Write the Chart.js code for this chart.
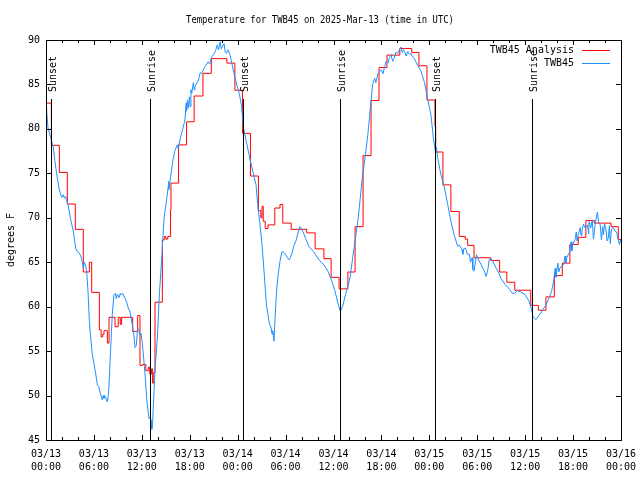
<!DOCTYPE html>
<html>
<head>
<meta charset="utf-8">
<title>Temperature for TWB45</title>
<script src="https://cdn.jsdelivr.net/npm/chart.js@4.4.1/dist/chart.umd.min.js"></script>
<style>
    html, body { margin: 0; padding: 0; background: #fff; }
    #wrap { width: 640px; height: 480px; }
</style>
</head>
<body>
<div id="wrap"><canvas id="tempChart" width="640" height="480"></canvas></div>
<script>
// ------------------------------------------
// Dados (horas desde 2025-03-13 00:00 UTC)
// ------------------------------------------
const analysisHours = [0, 0.67, 1.67, 2.67, 3.67, 4.67, 5.43, 5.72, 6.68, 6.9, 7.1, 7.26, 7.68, 7.89, 8.64, 9.05, 9.3, 9.47,
    10.85, 11.48, 11.77, 12.1, 12.5, 12.81, 13.0, 13.2, 13.35, 13.5, 13.65, 14.57, 14.8, 15.0, 15.25, 15.6, 15.65,
    16.6, 17.6, 18.55, 19.65, 20.7, 22.65, 23.65, 24.6, 25.6, 26.6, 26.9, 27.05, 27.2, 27.45, 27.8, 28.65, 29.3, 29.65,
    30.7, 32.65, 33.7, 34.8, 35.7, 36.7, 37.8, 38.7, 39.7, 40.7, 41.7, 42.7, 44.3, 45.8, 46.7, 47.7, 48.7, 48.8,
    49.7, 50.7, 51.75, 52.5, 52.8, 53.6, 55.7, 56.8, 57.7, 58.7, 60.7, 61.65, 62.6, 63.65, 64.65, 65.6, 66.65, 67.6,
    68.65, 70.75, 71.66, 72];
const analysisTemps = [82.9, 78.15, 75.1, 71.55, 68.7, 63.9, 65.0, 61.6, 57.4, 56.6, 56.9, 57.3, 55.9, 58.8, 57.75, 58.8, 58.0, 58.8,
    57.2, 59.0, 53.4, 53.5, 52.8, 53.2, 52.4, 53.0, 51.4, 52.6, 60.5, 67.5, 67.9, 67.6, 67.9, 70.9, 73.9,
    78.2, 80.8, 83.7, 86.25, 87.9, 87.4, 84.35, 79.5, 74.7, 70.8, 70.0, 71.3, 69.6, 68.8, 69.2, 71.1, 71.5, 69.4,
    68.7, 68.3, 66.5, 65.4, 63.3, 62.0, 63.9, 69.0, 77.0, 83.2, 86.9, 88.3, 89.05, 88.6, 87.1, 83.25, 80.3, 77.4,
    73.7, 70.7, 67.9, 67.6, 66.9, 65.5, 65.2, 63.9, 62.75, 61.85, 60.15, 59.6, 61.1, 63.5, 64.9, 67.0, 67.8, 69.7,
    69.4, 69.0, 67.55, 67.55];

const obsHours = [0, 0.08, 0.25, 0.6, 0.93, 1.12, 1.33, 1.62, 1.83, 2.0, 2.17, 2.3, 2.46, 2.6, 2.75, 3.09, 3.42, 3.71, 3.9,
    4.13, 4.3, 4.42, 4.55, 4.67, 4.8, 4.96, 5.09, 5.26, 5.43, 5.59, 5.8, 6.1, 6.25, 6.43, 6.6, 6.85, 7.05, 7.15, 7.26,
    7.35, 7.47, 7.6, 7.68, 7.8, 7.89, 8.1, 8.3, 8.5, 8.7, 8.8, 8.93, 9.14, 9.3, 9.43, 9.6, 9.77, 10.1, 10.3, 10.5, 10.8,
    11.0, 11.15, 11.3, 11.45, 11.6, 11.75, 11.9, 12.05, 12.25, 12.45, 12.6, 12.75, 12.9, 13.05, 13.15, 13.25, 13.35,
    13.45, 13.65, 13.95, 14.2, 14.5, 14.65, 14.8, 15.1, 15.3, 15.35, 15.4, 15.6, 15.9, 16.15, 16.45, 16.55, 16.8, 17.1,
    17.4, 17.55, 17.6, 17.7, 17.8, 17.95, 18.05, 18.15, 18.25, 18.45, 18.55, 18.65, 18.9, 19.1, 19.3, 19.5, 19.9, 20.3,
    20.5, 20.75, 21.0, 21.2, 21.45, 21.6, 21.8, 21.95, 22.1, 22.3, 22.45, 22.6, 22.8, 23.05, 23.2, 23.45, 23.9, 24.2,
    24.5, 24.7, 25.1, 25.45, 25.9, 26.3, 26.5, 26.75, 27.05, 27.3, 27.6, 27.9, 28.0, 28.2, 28.3, 28.4, 28.55, 28.7,
    28.9, 29.1, 29.3, 29.55, 29.8, 30.05, 30.3, 30.5, 30.8, 31.05, 31.3, 31.6, 31.8, 32.0, 32.2, 32.5, 32.9, 33.5,
    34.15, 34.8, 35.3, 35.8, 36.2, 36.55, 36.85, 37.15, 37.5, 37.8, 38.1, 38.4, 38.75, 39.1, 39.35, 39.65, 40.0, 40.3,
    40.65, 40.9, 41.15, 41.3, 41.6, 42.0, 42.2, 42.4, 42.6, 42.8, 43.0, 43.2, 43.4, 43.6, 43.8, 44.05, 44.25, 44.45,
    44.6, 44.75, 44.9, 45.1, 45.3, 45.5, 45.7, 45.9, 46.1, 46.5, 46.95, 47.4, 47.8, 48.2, 48.5, 48.75, 48.9, 49.05,
    49.45, 49.9, 50.3, 50.7, 51.1, 51.55, 51.8, 52.1, 52.2, 52.3, 52.5, 52.8, 53.0, 53.15, 53.35, 53.45, 53.6, 53.9,
    54.2, 54.5, 54.9, 55.1, 55.3, 55.5, 55.7, 55.9, 56.35, 56.6, 56.95, 57.5, 58.1, 58.4, 58.7, 59.0, 59.35, 59.95,
    60.5, 60.8, 61.0, 61.35, 61.8, 62.2, 62.6, 63.0, 63.3, 63.6, 63.75, 63.85, 63.95, 64.1, 64.2, 64.35, 64.8, 65.0,
    65.1, 65.2, 65.6, 65.75, 65.85, 65.95, 66.25, 66.4, 66.5, 66.65, 66.9, 67.0, 67.1, 67.3, 67.5, 67.8, 67.95, 68.0,
    68.2, 68.4, 68.55, 68.75, 69.05, 69.2, 69.4, 69.55, 69.7, 69.8, 69.95, 70.1, 70.25, 70.4, 70.55, 70.65, 70.8, 71.0,
    71.25, 71.45, 71.65, 71.8, 71.95, 72];
const obsTemps = [82.3, 82.0, 80.1, 79.0, 77.85, 76.35, 75.0, 73.35, 72.6, 72.3, 72.6, 72.2, 72.4, 71.9, 71.5, 69.8, 68.5, 66.6, 66.2,
    66.05, 65.8, 65.5, 65.0, 64.35, 65.0, 64.7, 64.0, 61.7, 58.35, 56.5, 54.6, 53.1, 52.3, 51.2, 51.0, 50.1, 49.5, 50.0, 49.7,
    50.0, 49.8, 49.4, 49.3, 50.0, 51.2, 55.35, 59.1, 61.3, 61.5, 60.9, 61.4, 61.0, 61.5, 61.3, 61.5, 61.2, 60.5, 59.85, 59.5, 58.0,
    56.8, 55.4, 55.6, 57.3, 57.5, 56.8, 57.0, 56.0, 54.0, 51.8, 49.8, 48.5, 47.4, 47.6, 47.2, 46.2, 47.0,
    49.0, 52.9, 56.6, 61.5, 65.5, 68.0, 70.1, 72.0, 73.5, 74.1, 73.2, 74.6, 76.5, 77.6, 78.2, 77.8, 78.9, 79.9,
    81.0, 82.9, 82.0, 83.2, 82.3, 83.6, 82.5, 84.4, 84.0, 85.2, 84.4, 84.75, 85.2, 85.5, 86.3, 86.25, 87.0, 87.55,
    87.3, 88.1, 88.4, 88.7, 89.45, 88.9, 89.8, 89.0, 89.3, 89.6, 88.6, 88.5, 88.9, 88.3, 87.7, 86.6, 84.9, 84.0,
    82.5, 80.25, 78.5, 77.0, 75.2, 73.7, 71.5, 69.6, 67.0, 64.0, 60.2, 58.5, 58.0, 57.6, 56.9, 57.3, 56.1, 59.0,
    62.2, 63.8, 65.1, 66.2, 66.1, 65.8, 65.4, 65.3, 66.0, 66.9, 67.4, 68.5, 69.0, 68.7, 68.4, 67.7, 66.8, 66.2,
    65.3, 64.7, 64.0, 62.85, 61.7, 60.4, 59.5, 60.05, 61.35, 62.3, 63.4, 65.5, 67.7, 70.0, 72.2, 74.85, 77.1, 79.35,
    82.7, 85.0, 85.7, 85.2, 86.3, 86.65, 86.2, 87.0, 87.6, 87.4, 88.0, 88.35, 87.6, 87.95, 88.6, 88.5, 88.9, 89.2,
    88.6, 88.9, 88.7, 88.2, 88.7, 88.4, 88.5, 88.1, 87.95, 87.2, 86.5, 85.2, 83.3, 81.6, 79.0, 77.5, 77.9, 76.7,
    74.85, 73.35, 71.5, 69.6, 68.1, 66.8, 66.9, 66.4, 65.9, 66.5, 66.6, 65.85, 65.9, 65.0, 65.5, 64.2, 64.0, 65.85,
    65.2, 64.7, 64.0, 63.4, 64.0, 65.3, 65.4, 65.2, 64.35, 64.0, 63.2, 62.5, 61.9, 61.5, 61.5, 61.8, 61.7, 61.4,
    60.6, 59.65, 58.8, 58.55, 59.1, 59.65, 60.2, 61.0, 61.7, 63.0, 64.3, 63.3, 64.0, 64.9, 63.9, 64.35, 64.7, 65.7,
    64.9, 65.5, 66.2, 67.3, 66.3, 67.0, 67.55, 68.4, 67.4, 68.1, 68.9, 68.0, 68.5, 69.3, 68.85, 69.2, 68.2, 69.6,
    68.85, 69.7, 67.6, 69.2, 70.65, 69.5, 69.2, 67.5, 69.0, 68.1, 69.3, 68.85, 67.4, 67.7, 69.1, 67.1, 68.7, 68.9,
    68.5, 68.4, 67.55, 67.0, 67.5, 67.2];

// Nascer / pôr do sol
const sunHours = [0.63, 12.98, 24.7, 36.85, 48.75, 60.9];
const sunLabels = ['Sunset', 'Sunrise', 'Sunset', 'Sunrise', 'Sunset', 'Sunrise'];

// Eixos
const dayLabels = ['03/13', '03/14', '03/15', '03/16'];
const xMajorTicks = [0, 6, 12, 18, 24, 30, 36, 42, 48, 54, 60, 66, 72];
const xMinorTicks = [2, 4, 8, 10, 14, 16, 20, 22, 26, 28, 32, 34, 38, 40, 44, 46, 50, 52, 56, 58, 62, 64, 68, 70];
const yTicks = [45, 50, 55, 60, 65, 70, 75, 80, 85, 90];

const FONT = '"DejaVu Sans Mono", "Liberation Mono", monospace';
const RED = '#ff0000';
const BLUE = '#1e90ff';

function toPoints(xs, ys) {
    return xs.map((h, i) => ({ x: h, y: ys[i] }));
}

function hourLabel(v) {
    const h = v % 24;
    return [dayLabels[Math.floor(v / 24)], (h < 10 ? '0' : '') + h + ':00'];
}

// ------------------------------------------
// Moldura, marcas, título, legenda e linhas do sol
// ------------------------------------------
const gnuplotLook = {
    id: 'gnuplotLook',
    afterDatasetsDraw(chart) {
        const { ctx, chartArea: a, scales: { x, y } } = chart;
        const L = Math.round(a.left), R = Math.round(a.right), T = Math.round(a.top), B = Math.round(a.bottom);
        ctx.save();
        ctx.strokeStyle = '#000';
        ctx.fillStyle = '#000';
        ctx.lineWidth = 1;

        // linhas verticais de nascer/pôr do sol
        ctx.font = '10px ' + FONT;
        sunHours.forEach((h, i) => {
            const px = Math.round(x.getPixelForValue(h)) + 0.5;
            ctx.beginPath();
            ctx.moveTo(px, 99);
            ctx.lineTo(px, B);
            ctx.stroke();
            ctx.save();
            ctx.translate(px + 1.5, 92);
            ctx.rotate(-Math.PI / 2);
            ctx.textAlign = 'left';
            ctx.textBaseline = 'middle';
            ctx.fillText(sunLabels[i], 0, 0);
            ctx.restore();
        });

        // moldura
        ctx.strokeRect(L + 0.5, T + 0.5, R - L, B - T);

        // marcas para dentro
        ctx.beginPath();
        xMajorTicks.forEach(v => {
            const px = Math.round(x.getPixelForValue(v)) + 0.5;
            ctx.moveTo(px, B); ctx.lineTo(px, B - 5);
            ctx.moveTo(px, T); ctx.lineTo(px, T + 5);
        });
        xMinorTicks.forEach(v => {
            const px = Math.round(x.getPixelForValue(v)) + 0.5;
            ctx.moveTo(px, B); ctx.lineTo(px, B - 3);
            ctx.moveTo(px, T); ctx.lineTo(px, T + 3);
        });
        yTicks.forEach(v => {
            const py = Math.round(y.getPixelForValue(v)) + 0.5;
            ctx.moveTo(L, py); ctx.lineTo(L + 5, py);
            ctx.moveTo(R, py); ctx.lineTo(R - 5, py);
        });
        ctx.stroke();

        // legenda
        ctx.textAlign = 'right';
        ctx.textBaseline = 'middle';
        chart.data.datasets.forEach((ds, i) => {
            const ly = 50 + i * 13;
            ctx.fillStyle = '#000';
            ctx.fillText(ds.label, 574, ly);
            ctx.strokeStyle = ds.borderColor;
            ctx.beginPath();
            ctx.moveTo(582, ly + 0.5);
            ctx.lineTo(610, ly + 0.5);
            ctx.stroke();
        });

        // título (fonte um pouco mais estreita)
        ctx.fillStyle = '#000';
        ctx.textAlign = 'center';
        ctx.translate(320, 20);
        ctx.scale(0.89, 1);
        ctx.fillText('Temperature for TWB45 on 2025-Mar-13 (time in UTC)', 0, 0);
        ctx.restore();
    }
};

// ------------------------------------------
// Gráfico
// ------------------------------------------
new Chart(document.getElementById('tempChart'), {
    type: 'line',
    data: {
        datasets: [{
            label: 'TWB45 Analysis',
            data: toPoints(analysisHours, analysisTemps),
            borderColor: RED,
            borderWidth: 1,
            stepped: true,
            order: 1
        }, {
            label: 'TWB45',
            data: toPoints(obsHours, obsTemps),
            borderColor: BLUE,
            borderWidth: 1,
            order: 0
        }]
    },
    options: {
        responsive: false,
        animation: false,
        devicePixelRatio: 1,
        layout: { padding: { top: 40, right: 19, left: 0, bottom: 0 } },
        elements: { point: { radius: 0 }, line: { tension: 0 } },
        plugins: {
            legend: { display: false },
            tooltip: { enabled: false },
            title: { display: false }
        },
        scales: {
            x: {
                type: 'linear',
                min: 0,
                max: 72,
                afterFit: s => { s.height = 40; s.paddingLeft = 0; s.paddingRight = 0; },
                afterBuildTicks: s => { s.ticks = xMajorTicks.map(v => ({ value: v })); },
                grid: { display: false, drawTicks: false },
                border: { display: false },
                ticks: {
                    autoSkip: false,
                    maxRotation: 0,
                    padding: 8,
                    color: '#000',
                    font: { family: FONT, size: 10, lineHeight: 1.3 },
                    callback: v => hourLabel(v)
                }
            },
            y: {
                min: 45,
                max: 90,
                afterFit: s => { s.width = 46; },
                afterBuildTicks: s => { s.ticks = yTicks.map(v => ({ value: v })); },
                grid: { display: false, drawTicks: false },
                border: { display: false },
                ticks: {
                    padding: 6,
                    color: '#000',
                    font: { family: FONT, size: 10 }
                },
                title: {
                    display: true,
                    text: 'degrees F',
                    color: '#000',
                    font: { family: FONT, size: 10 },
                    padding: { top: 5, bottom: 0 }
                }
            }
        }
    },
    plugins: [gnuplotLook]
});
</script>
</body>
</html>
